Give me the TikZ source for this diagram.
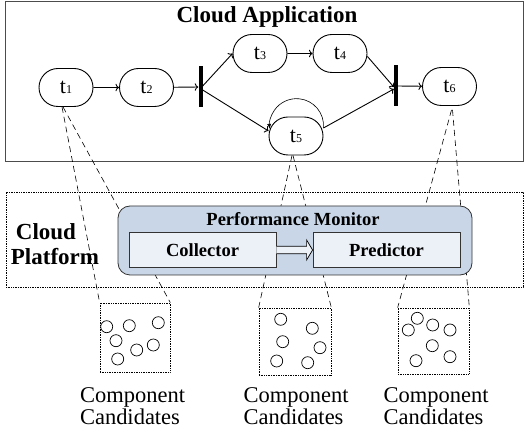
\documentclass[tikz,border=0pt]{standalone}
\usepackage{fontspec}
\IfFontExistsTF{LiberationSerif-Regular.ttf}
  {\setmainfont{LiberationSerif}[Extension=.ttf, UprightFont=*-Regular, BoldFont=*-Bold]}
  {\setmainfont{Liberation Serif}}
\usetikzlibrary{shapes.misc, arrows.meta}
\definecolor{monitorblue}{RGB}{200,214,231}
\definecolor{boxwhite}{RGB}{236,240,247}
\newcommand{\tname}[1]{t{\fontsize{12}{12}\selectfont #1}}
\begin{document}
\begin{tikzpicture}[x=1pt, y=1pt, line join=miter,
    task/.style={draw, line width=0.9pt, rounded rectangle, minimum width=54pt, minimum height=38pt, inner sep=0pt, font=\fontsize{22}{22}\selectfont},
    bar/.style={fill=black, minimum width=4pt, minimum height=41pt, inner sep=0pt},
    flow/.style={->, line width=0.9pt},
    zoomline/.style={dash pattern=on 6pt off 4pt, line width=0.6pt},
    bucket/.style={draw, densely dotted, line width=0.7pt},
    cand/.style={draw, circle, minimum size=12pt, inner sep=0pt, line width=0.7pt},
    label/.style={align=left, font=\fontsize{22.5}{21.5}\selectfont}]
    \useasboundingbox (0,0) rectangle (525,-435);

    % application layer
    \node[draw=black!70, line width=1pt, minimum width=518pt, minimum height=160pt] (app) at (264,-82) {};
    \node[font=\bfseries\fontsize{23}{23}\selectfont] (apptitle) at (267,-17) {Cloud Application};
    \node[task] (t1) at (66,-87.5) {\tname{1}};
    \node[task] (t2) at (146.5,-87.5) {\tname{2}};
    \node[bar] (bar1) at (200.5,-87) {};
    \node[task] (t3) at (260,-53.5) {\tname{3}};
    \node[task] (t4) at (340,-53.5) {\tname{4}};
    \node[task] (t5) at (296,-136) {\tname{5}};
    \node[bar] (bar2) at (396,-86) {};
    \node[task] (t6) at (449.5,-86.5) {\tname{6}};

    \draw[flow] (t1) -- (t2);
    \draw[flow] (t2) -- (bar1);
    \draw[flow] ([yshift=1pt]bar1.east) -- (t3.west);
    \draw[flow] ([yshift=-3pt]bar1.east) -- ([yshift=5pt]t5.west);
    \draw[flow] (t3) -- (t4);
    \draw[flow] ([yshift=-3pt]t4.east) -- ([yshift=-1pt]bar2.west);
    \draw[flow] ([yshift=8pt]t5.east) -- ([yshift=-3pt]bar2.west);
    \draw[flow] (bar2) -- (t6);
    \draw[-{Latex[length=5pt,width=4pt]}, line width=0.6pt] ([yshift=8pt]t5.east) arc[start angle=-5, end angle=187, radius=27pt];

    % platform layer
    \node[draw, densely dotted, line width=0.7pt, minimum width=517pt, minimum height=95pt] (platform) at (264.5,-239.5) {};
    \node[align=left, font=\bfseries\fontsize{23}{25}\selectfont] (platname) at (55,-244) {\hspace*{5pt}Cloud\\Platform};

    % component candidates
    \node[bucket, minimum width=70pt, minimum height=69pt] (b1) at (135,-337.5) {};
    \node[bucket, minimum width=72pt, minimum height=67pt] (b2) at (295,-341.5) {};
    \node[bucket, minimum width=71pt, minimum height=66pt] (b3) at (433.5,-341) {};
    \foreach \cx/\cy [count=\i] in {106.7/326.7, 129.3/325.7, 158.3/322.7, 116/340.7, 136.7/350, 153.3/345, 117.7/359}
        \node[cand] (ca\i) at (\cx,-\cy) {};
    \foreach \cx/\cy [count=\i] in {280.7/319.3, 312.3/328.3, 282.7/341.7, 320/347.7, 276.7/361, 307.7/362.7}
        \node[cand] (cb\i) at (\cx,-\cy) {};
    \foreach \cx/\cy [count=\i] in {417.3/318.3, 408.3/330, 432.7/325, 450/330, 432.3/345.7, 416/360.7, 450/356.7}
        \node[cand] (cc\i) at (\cx,-\cy) {};
    \node[label] (lab1) at (132.5,-406) {Component\\Candidates};
    \node[label] (lab2) at (296,-406) {Component\\Candidates};
    \node[label] (lab3) at (436,-406) {Component\\Candidates};

    \draw[zoomline] ([xshift=-4pt]t1.south) -- (b1.north west);
    \draw[zoomline] ([xshift=-3pt]t1.south) -- (b1.north east);
    \draw[zoomline] ([xshift=-4pt]t5.south) -- (b2.north west);
    \draw[zoomline] ([xshift=-3pt]t5.south) -- (b2.north east);
    \draw[zoomline] ([xshift=2pt,yshift=-4pt]t6.south) -- (b3.north west);
    \draw[zoomline] ([xshift=3pt,yshift=-4pt]t6.south) -- (b3.north east);

    % monitor on top of the lines
    \node[draw=black!80, line width=0.8pt, fill=monitorblue, rounded corners=12pt, minimum width=354pt, minimum height=69pt] (monitor) at (295,-240.5) {};
    \node[font=\bfseries\fontsize{18.5}{18.5}\selectfont] (montitle) at (293,-219) {Performance Monitor};
    \node[draw=black!80, line width=0.8pt, fill=boxwhite, minimum width=147pt, minimum height=35pt, font=\bfseries\fontsize{18.5}{18.5}\selectfont] (collector) at (202.5,-250) {Collector};
    \node[draw=black!80, line width=0.8pt, fill=boxwhite, minimum width=147pt, minimum height=35pt, font=\bfseries\fontsize{18.5}{18.5}\selectfont] (predictor) at (386.5,-250) {Predictor};
    \draw[fill=boxwhite, line width=0.7pt] ([yshift=3.8pt]collector.east) -- ([xshift=-6pt,yshift=3.8pt]predictor.west) -- ([xshift=-6pt,yshift=10pt]predictor.west) -- (predictor.west) -- ([xshift=-6pt,yshift=-10pt]predictor.west) -- ([xshift=-6pt,yshift=-3.8pt]predictor.west) -- ([yshift=-3.8pt]collector.east);
\end{tikzpicture}
\end{document}
